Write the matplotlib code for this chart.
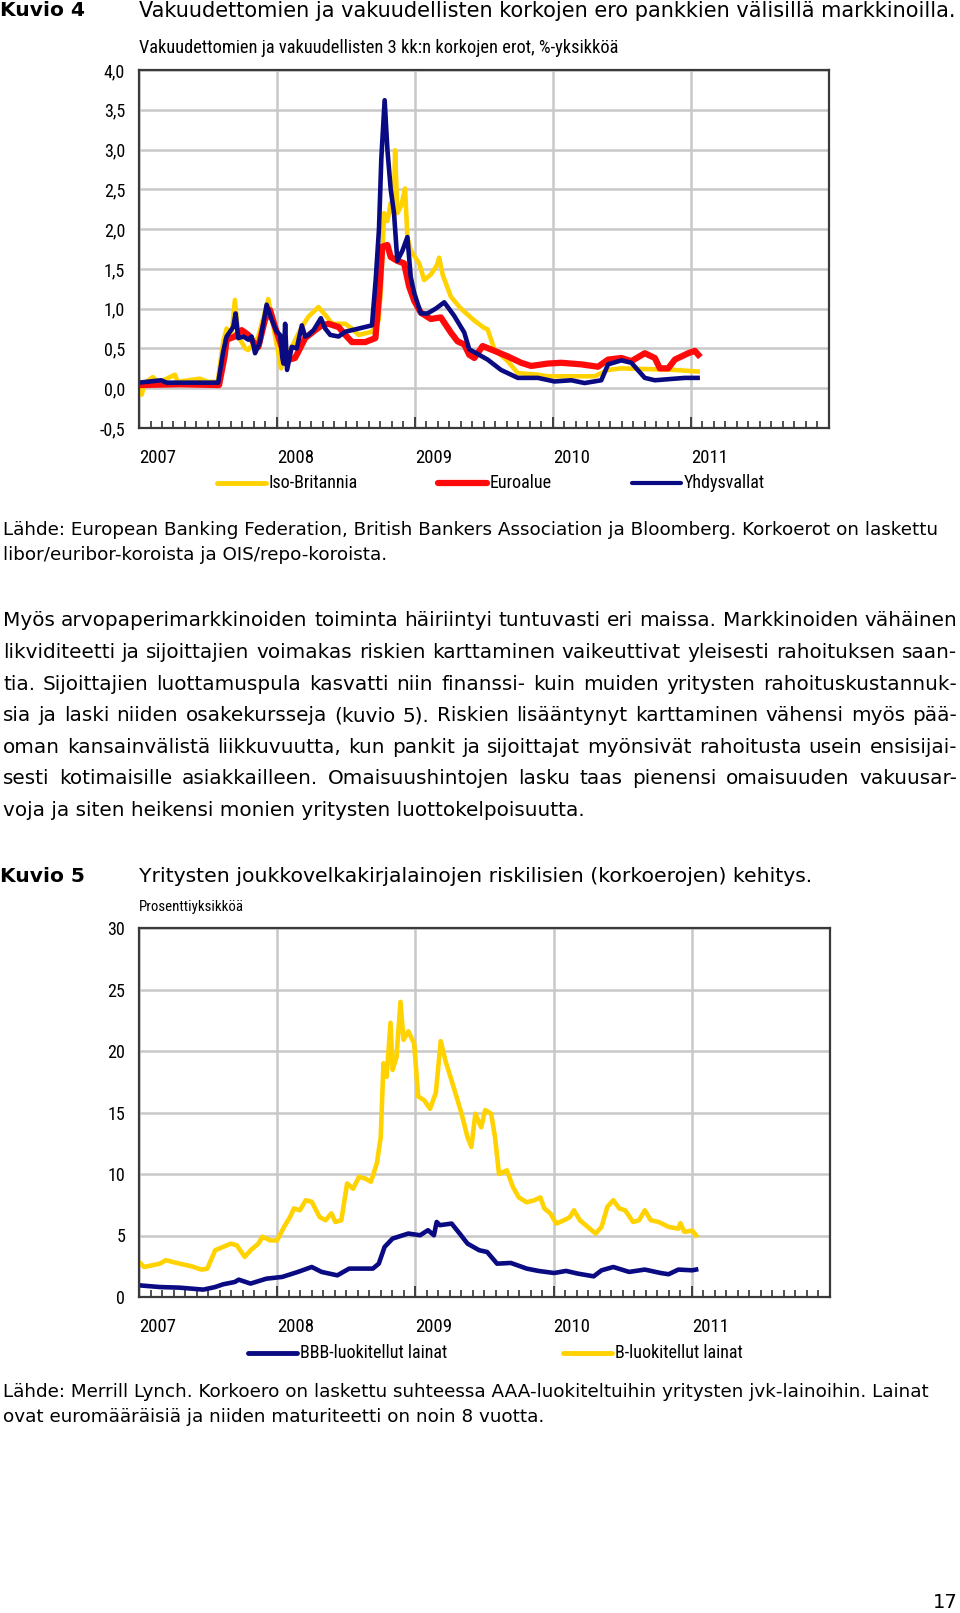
import numpy as np
import matplotlib.pyplot as plt
from matplotlib.ticker import FixedLocator

# Kuvio 4: vakuudettomien ja vakuudellisten korkojen erot (%-yksikköä)
uk_t = [2007.00, 2007.02, 2007.04, 2007.10, 2007.14, 2007.26, 2007.28, 2007.44, 2007.50, 2007.57,
        2007.61, 2007.635, 2007.67, 2007.695, 2007.72, 2007.77, 2007.79, 2007.83, 2007.865, 2007.937,
        2007.974, 2008.01, 2008.03, 2008.06, 2008.107, 2008.18, 2008.228, 2008.30, 2008.36, 2008.40,
        2008.495, 2008.543, 2008.592, 2008.688, 2008.737, 2008.755, 2008.776, 2008.80, 2008.824, 2008.845,
        2008.856, 2008.872, 2008.901, 2008.928, 2008.945, 2008.969, 2009.00, 2009.03, 2009.066, 2009.115,
        2009.16, 2009.175, 2009.20, 2009.26, 2009.333, 2009.43, 2009.50, 2009.526, 2009.575, 2009.672,
        2009.745, 2009.89, 2009.963, 2010.132, 2010.302, 2010.399, 2010.495, 2010.689, 2010.883, 2011.048]
uk_v = [0.08, -0.08, 0.06, 0.14, 0.07, 0.17, 0.08, 0.12, 0.08, 0.08,
        0.58, 0.75, 0.65, 1.11, 0.65, 0.50, 0.48, 0.56, 0.65, 1.12,
        0.77, 0.44, 0.25, 0.40, 0.52, 0.77, 0.90, 1.02, 0.90, 0.81,
        0.81, 0.75, 0.67, 0.71, 0.86, 1.30, 2.20, 2.10, 2.33, 2.20,
        2.99, 2.20, 2.30, 2.51, 1.90, 1.73, 1.65, 1.57, 1.36, 1.43,
        1.55, 1.64, 1.43, 1.15, 1.00, 0.85, 0.76, 0.74, 0.49, 0.34,
        0.19, 0.17, 0.15, 0.15, 0.15, 0.23, 0.25, 0.24, 0.23, 0.21]

ea_t = [2007.00, 2007.30, 2007.58, 2007.62, 2007.635, 2007.695, 2007.744, 2007.792, 2007.828, 2007.865,
        2007.913, 2007.95, 2007.986, 2008.034, 2008.07, 2008.13, 2008.155, 2008.204, 2008.277, 2008.325,
        2008.373, 2008.446, 2008.495, 2008.543, 2008.64, 2008.713, 2008.739, 2008.763, 2008.80, 2008.824,
        2008.872, 2008.921, 2008.957, 2008.994, 2009.042, 2009.115, 2009.187, 2009.26, 2009.308, 2009.357,
        2009.393, 2009.43, 2009.49, 2009.575, 2009.672, 2009.769, 2009.841, 2009.963, 2010.059, 2010.205,
        2010.326, 2010.399, 2010.495, 2010.568, 2010.665, 2010.738, 2010.774, 2010.835, 2010.883, 2010.98,
        2011.028, 2011.053]
ea_v = [0.04, 0.05, 0.04, 0.40, 0.61, 0.65, 0.73, 0.67, 0.58, 0.52,
        0.86, 0.98, 0.77, 0.52, 0.35, 0.38, 0.46, 0.63, 0.73, 0.79,
        0.81, 0.77, 0.67, 0.58, 0.58, 0.63, 1.15, 1.78, 1.80, 1.65,
        1.60, 1.57, 1.28, 1.10, 0.95, 0.87, 0.89, 0.70, 0.59, 0.55,
        0.42, 0.38, 0.53, 0.47, 0.40, 0.32, 0.28, 0.31, 0.32, 0.30,
        0.27, 0.36, 0.38, 0.34, 0.44, 0.38, 0.25, 0.25, 0.36, 0.44,
        0.47, 0.42]

us_t = [2007.00, 2007.16, 2007.20, 2007.574, 2007.61, 2007.635, 2007.683, 2007.70, 2007.719, 2007.756,
        2007.792, 2007.816, 2007.841, 2007.877, 2007.925, 2007.962, 2007.998, 2008.022, 2008.039, 2008.047,
        2008.059, 2008.073, 2008.107, 2008.143, 2008.18, 2008.204, 2008.228, 2008.265, 2008.318, 2008.349,
        2008.386, 2008.446, 2008.495, 2008.592, 2008.688, 2008.715, 2008.739, 2008.756, 2008.780, 2008.800,
        2008.824, 2008.848, 2008.872, 2008.909, 2008.945, 2008.969, 2008.994, 2009.042, 2009.09, 2009.15,
        2009.212, 2009.284, 2009.357, 2009.393, 2009.526, 2009.623, 2009.745, 2009.89, 2010.011, 2010.132,
        2010.229, 2010.35, 2010.399, 2010.495, 2010.568, 2010.665, 2010.738, 2010.883, 2010.956, 2011.048]
us_v = [0.07, 0.10, 0.07, 0.07, 0.46, 0.65, 0.77, 0.94, 0.63, 0.65,
        0.61, 0.65, 0.44, 0.58, 1.05, 0.86, 0.71, 0.67, 0.38, 0.31,
        0.81, 0.23, 0.52, 0.50, 0.79, 0.65, 0.67, 0.73, 0.88, 0.75,
        0.67, 0.65, 0.71, 0.75, 0.79, 1.36, 2.00, 2.89, 3.62, 3.00,
        2.50, 2.20, 1.60, 1.73, 1.90, 1.40, 1.20, 0.94, 0.94, 1.00,
        1.08, 0.91, 0.70, 0.49, 0.36, 0.23, 0.13, 0.13, 0.085, 0.10,
        0.065, 0.10, 0.30, 0.35, 0.32, 0.13, 0.10, 0.12, 0.13, 0.13]

# Kuvio 5: yritysten jvk-lainojen korkoerot (prosenttiyksikköä)
b_t = [2007.000, 2007.037, 2007.151, 2007.194, 2007.294, 2007.379, 2007.451, 2007.494, 2007.551, 2007.608,
       2007.665, 2007.708, 2007.765, 2007.807, 2007.864, 2007.893, 2007.950, 2007.999, 2008.050, 2008.093,
       2008.121, 2008.164, 2008.207, 2008.250, 2008.307, 2008.350, 2008.392, 2008.421, 2008.464, 2008.506,
       2008.549, 2008.592, 2008.635, 2008.678, 2008.721, 2008.749, 2008.769, 2008.792, 2008.820, 2008.835,
       2008.863, 2008.892, 2008.914, 2008.949, 2008.991, 2009.020, 2009.063, 2009.106, 2009.148, 2009.183,
       2009.220, 2009.262, 2009.305, 2009.334, 2009.377, 2009.405, 2009.434, 2009.476, 2009.505, 2009.548,
       2009.576, 2009.605, 2009.662, 2009.705, 2009.748, 2009.805, 2009.862, 2009.904, 2009.933, 2009.976,
       2010.019, 2010.076, 2010.118, 2010.147, 2010.190, 2010.247, 2010.304, 2010.347, 2010.389, 2010.432,
       2010.475, 2010.518, 2010.575, 2010.618, 2010.660, 2010.703, 2010.760, 2010.832, 2010.903, 2010.917,
       2010.946, 2011.003, 2011.031]
b_v = [2.85, 2.44, 2.71, 2.99, 2.71, 2.50, 2.23, 2.30, 3.80, 4.07,
       4.34, 4.20, 3.26, 3.80, 4.34, 4.90, 4.60, 4.60, 5.70, 6.50,
       7.20, 7.05, 7.87, 7.74, 6.50, 6.24, 6.80, 6.10, 6.24, 9.23,
       8.80, 9.77, 9.64, 9.37, 10.86, 13.0, 19.0, 17.9, 22.3, 18.46,
       19.5, 24.0, 20.9, 21.6, 20.6, 16.3, 16.0, 15.3, 16.6, 20.8,
       19.1, 17.6, 16.0, 14.9, 13.0, 12.2, 14.9, 13.8, 15.2, 14.9,
       13.0, 10.0, 10.3, 8.96, 8.10, 7.70, 7.87, 8.10, 7.20, 6.80,
       5.97, 6.24, 6.50, 7.05, 6.24, 5.70, 5.16, 5.70, 7.33, 7.87,
       7.20, 7.05, 6.10, 6.24, 7.05, 6.24, 6.10, 5.70, 5.56, 6.00,
       5.30, 5.40, 5.00]

bbb_t = [2007.000, 2007.151, 2007.294, 2007.465, 2007.551, 2007.608, 2007.693, 2007.722, 2007.807, 2007.922,
         2008.036, 2008.150, 2008.250, 2008.321, 2008.435, 2008.521, 2008.692, 2008.735, 2008.777, 2008.835,
         2008.949, 2009.034, 2009.091, 2009.134, 2009.154, 2009.177, 2009.262, 2009.320, 2009.377, 2009.462,
         2009.519, 2009.591, 2009.690, 2009.805, 2009.890, 2010.004, 2010.090, 2010.176, 2010.290, 2010.347,
         2010.432, 2010.546, 2010.660, 2010.775, 2010.832, 2010.903, 2011.003, 2011.031]
bbb_v = [0.95, 0.81, 0.76, 0.60, 0.81, 1.03, 1.22, 1.41, 1.09, 1.49,
         1.63, 2.04, 2.44, 2.04, 1.76, 2.31, 2.31, 2.71, 4.07, 4.75,
         5.16, 5.02, 5.43, 5.02, 6.10, 5.84, 5.97, 5.16, 4.34, 3.80,
         3.66, 2.71, 2.77, 2.31, 2.12, 1.95, 2.12, 1.90, 1.68, 2.17,
         2.44, 2.04, 2.23, 1.95, 1.85, 2.23, 2.17, 2.23]

years = [2007, 2008, 2009, 2010, 2011]
top_yticks = [-0.5, 0.0, 0.5, 1.0, 1.5, 2.0, 2.5, 3.0, 3.5, 4.0]
bot_yticks = [0, 5, 10, 15, 20, 25, 30]

YEL, RED, NAVY = '#FFD200', '#FF0A0A', '#0A0A82'
# kapea fontti kuvioiden teksteihin, jos sellainen löytyy
CF = dict(family=['Liberation Sans Narrow', 'Roboto Condensed', 'Noto Sans', 'DejaVu Sans'],
          fontstretch='condensed')
W, H = 960, 1613

fig = plt.figure(figsize=(9.6, 16.13), dpi=100)
R = fig.canvas.get_renderer()

# koko sivun tekstit pikselikoordinaateissa
over = fig.add_axes([0, 0, 1, 1])
over.set_xlim(0, W)
over.set_ylim(H, 0)
over.axis('off')


def put(x, y, s, w=None, fs=12, **kw):
    kw.setdefault('va', 'center')
    t = over.text(x, y, s, fontsize=fs, **kw)
    if w:
        t.set_fontsize(fs * w / t.get_window_extent(R).width)
    return t


def width(s, fs, **kw):
    t = over.text(0, 0, s, fontsize=fs, **kw)
    w = t.get_window_extent(R).width
    t.remove()
    return w


def paragraph(lines, y0, dy, x0, x1, last_w):
    fits = [10 * (x1 - x0) / width(l, 10) for l in lines[:-1]]
    fs = min(10 * last_w / width(lines[-1], 10), min(fits) * 0.995)
    for i, line in enumerate(lines):
        y = y0 + i * dy
        if i == len(lines) - 1:
            put(x0, y, line, fs=fs)
            continue
        words = line.split()
        ws = [width(wd, fs) for wd in words]
        gap = (x1 - x0 - sum(ws)) / (len(words) - 1)
        x = x0
        for wd, ww in zip(words, ws):
            put(x, y, wd, fs=fs)
            x += ww + gap


def chart(box, ylim, yticks, ylabels):
    l, t, r, b = box
    ax = fig.add_axes([l / W, 1 - b / H, (r - l) / W, (b - t) / H])
    ax.set_xlim(2007, 2012)
    ax.set_ylim(*ylim)
    ax.set_xticks(years)
    ax.set_xticklabels([str(y) for y in years], fontsize=13.5, **CF)
    for lab in ax.get_xticklabels():
        lab.set_ha('left')
    ax.xaxis.set_minor_locator(FixedLocator(np.arange(2007, 2012, 1 / 12)))
    ax.set_yticks(yticks)
    ax.set_yticklabels(ylabels, fontsize=13, **CF)
    ax.tick_params(axis='x', which='major', direction='in', length=8, width=1.3, pad=15, color='#333333')
    ax.tick_params(axis='x', which='minor', direction='in', length=5, width=1.2, color='#333333')
    ax.tick_params(axis='y', length=0, pad=10)
    ax.grid(True, which='major', color='#c8c8c8', lw=1.8)
    ax.set_axisbelow(True)
    for s in ax.spines.values():
        s.set_color('#3a3a3a')
        s.set_linewidth(1.6)
    return ax


# --- Kuvio 4 ---
put(0, 11, 'Kuvio 4', w=85, fs=14, fontweight='bold')
put(139, 11, 'Vakuudettomien ja vakuudellisten korkojen ero pankkien välisillä markkinoilla.', w=816, fs=13)
put(139, 48, 'Vakuudettomien ja vakuudellisten 3 kk:n korkojen erot, %-yksikköä', w=478, fs=12, **CF)

ax1 = chart((139, 70, 829, 428), (-0.5, 4.0), top_yticks,
            [f'{v:.1f}'.replace('.', ',') for v in top_yticks])
ax1.plot(uk_t, uk_v, color=YEL, lw=3.3, solid_joinstyle='round')
ax1.plot(ea_t, ea_v, color=RED, lw=4.5, solid_joinstyle='round')
ax1.plot(us_t, us_v, color=NAVY, lw=3.3, solid_joinstyle='round')

for x0, col, lw, lab in [(217, YEL, 3.5, 'Iso-Britannia'), (438, RED, 4.5, 'Euroalue'),
                         (632, NAVY, 3.0, 'Yhdysvallat')]:
    over.plot([x0, x0 + 49], [483, 483], color=col, lw=lw, solid_capstyle='round')
    put(x0 + 52, 483, lab, fs=13, **CF)

put(3, 530, 'Lähde: European Banking Federation, British Bankers Association ja Bloomberg. Korkoerot on laskettu',
    w=934, fs=12)
src_fs = over.texts[-1].get_fontsize()
put(3, 555, 'libor/euribor-koroista ja OIS/repo-koroista.', fs=src_fs)

body = [
    'Myös arvopaperimarkkinoiden toiminta häiriintyi tuntuvasti eri maissa. Markkinoiden vähäinen',
    'likviditeetti ja sijoittajien voimakas riskien karttaminen vaikeuttivat yleisesti rahoituksen saan-',
    'tia. Sijoittajien luottamuspula kasvatti niin finanssi- kuin muiden yritysten rahoituskustannuk-',
    'sia ja laski niiden osakekursseja (kuvio 5). Riskien lisääntynyt karttaminen vähensi myös pää-',
    'oman kansainvälistä liikkuvuutta, kun pankit ja sijoittajat myönsivät rahoitusta usein ensisijai-',
    'sesti kotimaisille asiakkailleen. Omaisuushintojen lasku taas pienensi omaisuuden vakuusar-',
    'voja ja siten heikensi monien yritysten luottokelpoisuutta.',
]
paragraph(body, 621, 31.6, 3, 957, 585)

# --- Kuvio 5 ---
put(0, 877, 'Kuvio 5', w=85, fs=14, fontweight='bold')
put(139, 877, 'Yritysten joukkovelkakirjalainojen riskilisien (korkoerojen) kehitys.', w=671, fs=13)
put(139, 907, 'Prosenttiyksikköä', w=104, fs=12, **CF)

ax2 = chart((139, 928, 830, 1297), (0, 30), bot_yticks, [str(v) for v in bot_yticks])
ax2.plot(bbb_t, bbb_v, color=NAVY, lw=3.3, solid_joinstyle='round')
ax2.plot(b_t, b_v, color=YEL, lw=3.3, solid_joinstyle='round')

for x0, col, lab in [(248, NAVY, 'BBB-luokitellut lainat'), (563, YEL, 'B-luokitellut lainat')]:
    over.plot([x0, x0 + 49], [1353, 1353], color=col, lw=3.5, solid_capstyle='round')
    put(x0 + 52, 1353, lab, fs=13, **CF)

put(3, 1392, 'Lähde: Merrill Lynch. Korkoero on laskettu suhteessa AAA-luokiteltuihin yritysten jvk-lainoihin. Lainat',
    w=922, fs=12)
src2_fs = over.texts[-1].get_fontsize()
put(3, 1417, 'ovat euromääräisiä ja niiden maturiteetti on noin 8 vuotta.', fs=src2_fs)

put(958, 1602, '17', fs=14, ha='right')

fig.savefig('out.png', dpi=100)
